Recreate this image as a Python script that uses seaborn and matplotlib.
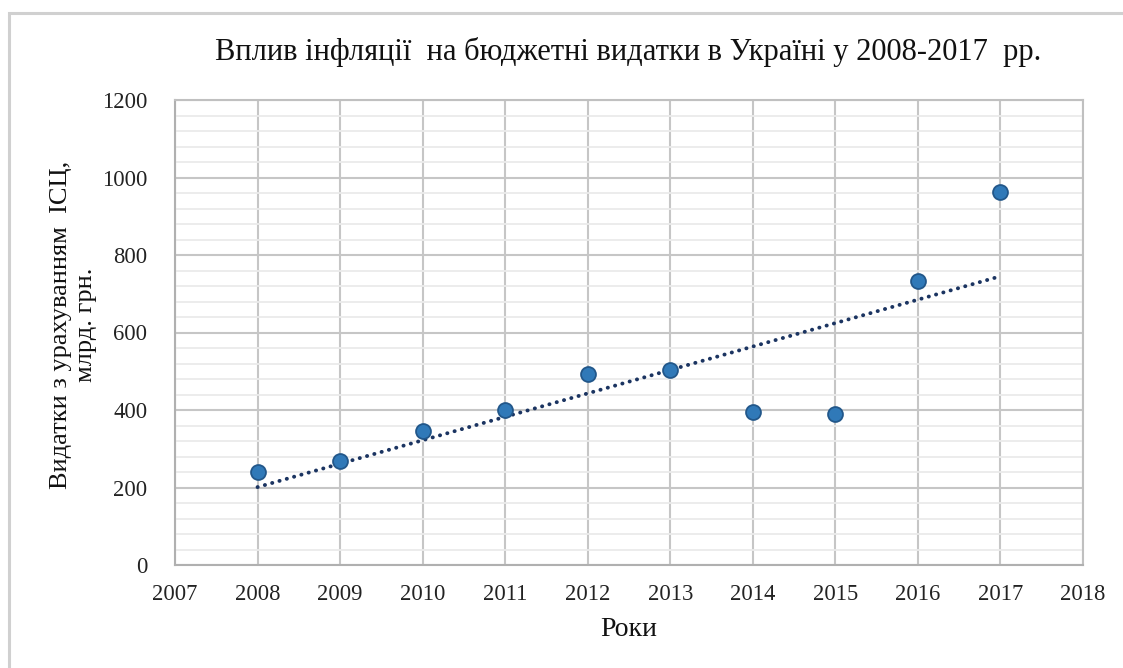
import matplotlib
matplotlib.use("Agg")
import matplotlib.pyplot as plt
import seaborn as sns
import pandas as pd
from matplotlib.patches import Rectangle
from matplotlib.ticker import MultipleLocator

sns.set_style("white")
plt.rcParams["font.family"] = ["Liberation Serif", "DejaVu Serif"]

# data
years = [2008, 2009, 2010, 2011, 2012, 2013, 2014, 2015, 2016, 2017]
spending = [240, 268, 346, 400, 493, 503, 395, 390, 733, 963]
x_ticks = list(range(2007, 2019))
y_ticks = [0, 200, 400, 600, 800, 1000, 1200]

df = pd.DataFrame({"year": years, "spending": spending})

fig = plt.figure(figsize=(11.23, 6.68), dpi=100)
ax = fig.add_axes([175 / 1123, 1 - 565 / 668, (1083 - 175) / 1123, (565 - 100) / 668])

# outer chart frame (partly cut off on the right and bottom)
fig.patches.append(Rectangle((9 / 1123, -0.1), 1.2, 1 - 13 / 668 + 0.1,
                             transform=fig.transFigure, fill=False,
                             edgecolor="#d0d0d0", linewidth=2.2, zorder=0))

# linear trend line
sns.regplot(data=df, x="year", y="spending", ax=ax, scatter=False, ci=None,
            line_kws={"color": "#1b3461", "linestyle": (0, (0.05, 1.9)),
                      "linewidth": 2.8, "dash_capstyle": "round", "zorder": 2})

sns.scatterplot(data=df, x="year", y="spending", ax=ax, s=115,
                color="#3079b8", edgecolor="#22578a", linewidth=1.3, zorder=3)

ax.set_xlim(2007, 2018)
ax.set_ylim(0, 1200)
ax.set_xticks(x_ticks)
ax.set_yticks(y_ticks)
ax.yaxis.set_minor_locator(MultipleLocator(40))
ax.grid(which="major", color="#c6c6c6", linewidth=1.5, zorder=0)
ax.grid(which="minor", axis="y", color="#ebebeb", linewidth=1.3, zorder=0)
ax.set_axisbelow(True)
for s in ax.spines.values():
    s.set_color("#c0c0c0")
    s.set_linewidth(1.5)
ax.spines["left"].set_color("#b0b0b0")
ax.spines["bottom"].set_color("#b0b0b0")
ax.tick_params(which="both", length=0, labelsize=16.3, colors="#222222")
ax.tick_params(axis="x", pad=14)
ax.tick_params(axis="y", pad=20)

ax.set_xlabel("Роки", fontsize=20, labelpad=8, color="#111111")
ax.set_ylabel("Видатки з урахуванням  ІСЦ,\nмлрд. грн.", fontsize=19,
              color="#111111", linespacing=1.15)
ax.yaxis.set_label_coords(-0.086, 0.516)
fig.text(628 / 1123, 1 - 52 / 668, "Вплив інфляції  на бюджетні видатки в Україні у 2008-2017  рр.",
         ha="center", va="center", fontsize=22, color="#111111")

fig.savefig("out.png", dpi=100)
